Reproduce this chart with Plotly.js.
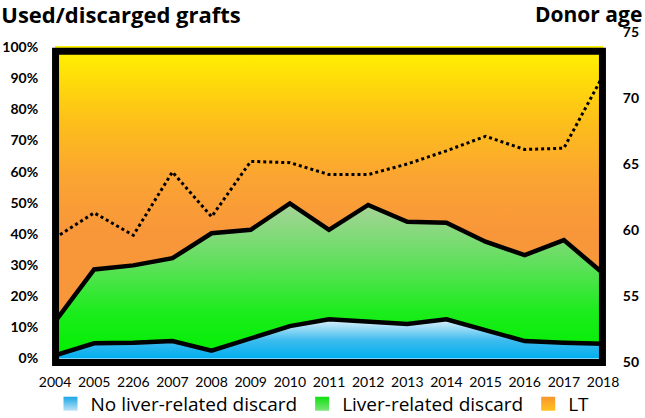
<!DOCTYPE html>
<html>
<head>
<meta charset="utf-8">
<script src="https://cdn.plot.ly/plotly-3.0.1.min.js"></script>
<style>html,body{margin:0;padding:0;background:#fff;}#chart{width:645px;height:418px;}</style>
</head>
<body>
<div id="chart"></div>
<script>
// ---- data ----
var years = ['2004','2005','2206','2007','2008','2009','2010','2011','2012','2013','2014','2015','2016','2017','2018'];
// shares of grafts (%)
var noLiverDiscard = [1.0, 4.9, 5.1, 5.6, 2.5, 6.5, 10.4, 12.6, 12.0, 11.1, 12.6, 9.1, 5.6, 5.1, 4.7];
var liverDiscard   = [10.8, 23.7, 24.8, 26.6, 37.7, 34.8, 39.4, 28.7, 37.3, 32.8, 31.0, 28.4, 27.6, 32.9, 22.7];
var lt             = [88.2, 71.4, 70.1, 67.8, 59.8, 58.7, 50.2, 58.7, 50.7, 56.1, 56.4, 62.5, 66.8, 62.0, 72.6];
// mean donor age (years)
var donorAge = [59.4, 61.3, 59.6, 64.4, 61.0, 65.2, 65.1, 64.2, 64.2, 65.0, 66.0, 67.1, 66.1, 66.2, 71.7];
var seriesNames = ['No liver-related discard', 'Liver-related discard', 'LT'];
var leftTicks = [0,10,20,30,40,50,60,70,80,90,100];
var rightTicks = [50,55,60,65,70,75];

var FONT = 'Lato, "Open Sans", sans-serif';
var FONT2 = '"Open Sans", Lato, sans-serif';
var yRange = [-1.44, 105.14];
var y2Range = [49.92, 75.08];
function paperY(v){ return (v - yRange[0]) / (yRange[1] - yRange[0]); }

var traces = [
  {
    x: years, y: noLiverDiscard, type: 'scatter', mode: 'lines', stackgroup: 'one',
    name: seriesNames[0], showlegend: false, hoverinfo: 'skip',
    line: {color: '#000', width: 4.5},
    fillgradient: {type: 'vertical', start: 0, stop: 13,
      colorscale: [[0,'#00AEEF'],[0.45,'#3DBCEE'],[1,'#EAF5FB']]}
  },
  {
    x: years, y: liverDiscard, type: 'scatter', mode: 'lines', stackgroup: 'one',
    name: seriesNames[1], showlegend: false, hoverinfo: 'skip',
    line: {color: '#000', width: 4.5},
    fillgradient: {type: 'vertical', start: 0, stop: 50,
      colorscale: [[0,'#00F000'],[0.3,'#1CEC1C'],[0.6,'#5EE05A'],[1,'#A9D39A']]}
  },
  {
    x: years, y: lt, type: 'scatter', mode: 'lines', stackgroup: 'one',
    name: seriesNames[2], showlegend: false, hoverinfo: 'skip',
    line: {color: '#FFF200', width: 2},
    fillgradient: {type: 'vertical', start: 40, stop: 100,
      colorscale: [[0,'#F8963A'],[0.3,'#FBA432'],[0.6,'#FDBF1A'],[0.85,'#FFDF08'],[1,'#FFF500']]}
  },
  {
    x: years, y: donorAge, type: 'scatter', mode: 'lines', yaxis: 'y2',
    name: 'Donor age', showlegend: false, hoverinfo: 'skip',
    line: {color: '#000', width: 3, dash: 'dot'}
  },
  // legend entries
  {x: [null], y: [null], type: 'scatter', mode: 'markers', name: seriesNames[0], hoverinfo: 'skip',
   marker: {symbol: 'square', size: 14, color: '#1AA7E6', gradient: {type: 'vertical', color: '#BFE4F8'}}},
  {x: [null], y: [null], type: 'scatter', mode: 'markers', name: seriesNames[1], hoverinfo: 'skip',
   marker: {symbol: 'square', size: 14, color: '#11E011', gradient: {type: 'vertical', color: '#7DE57A'}}},
  {x: [null], y: [null], type: 'scatter', mode: 'markers', name: seriesNames[2], hoverinfo: 'skip',
   marker: {symbol: 'square', size: 14, color: '#F9962E', gradient: {type: 'vertical', color: '#FFC21E'}}}
];

var layout = {
  width: 645, height: 418,
  margin: {l: 55, r: 42, t: 31, b: 55, pad: 0, autoexpand: false},
  paper_bgcolor: '#fff', plot_bgcolor: '#fff',
  font: {family: FONT, color: '#000'},
  title: {text: '<b>Used/discarged grafts</b>', x: 0.002, xref: 'container', xanchor: 'left',
          y: 1 - 15/418, yref: 'container', yanchor: 'middle',
          font: {family: FONT2, size: 22, color: '#000'}},
  xaxis: {type: 'category', range: [0, 14], showgrid: false, zeroline: false, showline: false,
          ticks: 'outside', ticklen: 6, tickcolor: 'rgba(0,0,0,0)', tickangle: 0,
          tickfont: {family: FONT, size: 14, color: '#000'}, fixedrange: true},
  yaxis: {range: yRange, tickvals: leftTicks, ticktext: leftTicks.map(function(v){return '<b>'+v+'%</b>';}),
          showgrid: false, zeroline: false, showline: false,
          ticks: 'outside', ticklen: 13, tickcolor: 'rgba(0,0,0,0)',
          tickfont: {family: FONT, size: 14, color: '#000'}, fixedrange: true},
  yaxis2: {range: y2Range, overlaying: 'y', side: 'right', tickvals: rightTicks,
           ticktext: rightTicks.map(function(v){return '<b>'+v+'</b>';}),
           showgrid: false, zeroline: false, showline: false,
           ticks: 'outside', ticklen: 16, tickcolor: 'rgba(0,0,0,0)',
           tickfont: {family: FONT, size: 14, color: '#000'}, fixedrange: true},
  legend: {orientation: 'h', traceorder: 'normal', x: 0.5, xanchor: 'center', xref: 'container',
           y: 14/418, yref: 'container', yanchor: 'middle',
           font: {family: FONT2, size: 19, color: '#000'}, bgcolor: 'rgba(0,0,0,0)',
           itemclick: false, itemdoubleclick: false, tracegroupgap: 0},
  annotations: [
    {text: '<b>Donor age</b>', xref: 'paper', yref: 'paper', x: 1 + 41/548, y: 1 + 17/332,
     xanchor: 'right', yanchor: 'middle', showarrow: false,
     font: {family: FONT2, size: 21, color: '#000'}}
  ],
  shapes: [
    {type: 'rect', xref: 'paper', yref: 'paper', x0: 0.001, x1: 0.999, y0: paperY(-1.3), y1: paperY(98.6),
     line: {color: '#000', width: 7}, fillcolor: 'rgba(0,0,0,0)', layer: 'above'}
  ],
  showlegend: true
};

Plotly.newPlot('chart', traces, layout, {displayModeBar: false, staticPlot: true});
</script>
</body>
</html>
